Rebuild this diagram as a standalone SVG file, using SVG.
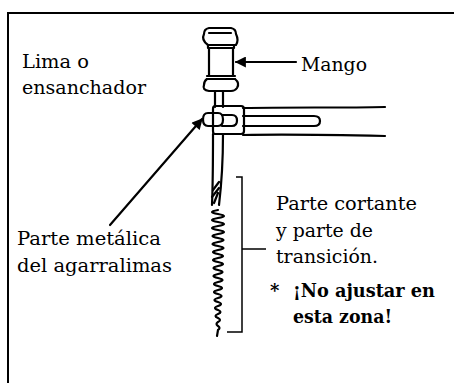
<svg xmlns="http://www.w3.org/2000/svg" width="454" height="383" viewBox="0 0 454 383">
  <defs>
    <style>
      .frame { stroke: #000; stroke-width: 2; fill: none; }
      .ink { stroke: #000; stroke-width: 2.2; fill: none; stroke-linecap: round; stroke-linejoin: round; }
      .thin { stroke: #000; stroke-width: 1.5; fill: none; }
      .lbl { font-size: 18px; fill: #000; }
      .warn { font-size: 18px; font-weight: bold; fill: #000; }
    </style>
    <marker id="head" viewBox="0 0 10 10" refX="9" refY="5" markerWidth="5.5" markerHeight="5" orient="auto" markerUnits="strokeWidth">
      <path d="M0,0 L10,5 L0,10 Z" fill="#000"/>
    </marker>
  </defs>

  <rect width="454" height="383" fill="#fff"/>

  <!-- open frame: top and left edges only -->
  <path class="frame" d="M8,383 V13 H454"/>

  <!-- file / reamer instrument -->
  <g id="instrument">
    <!-- handle -->
    <g id="handle">
      <path class="ink" fill="#fff" d="M209,28 H231 Q236,29 236,34 Q239,40 236,45 H208 Q201,40 204,34 Q204,29 209,28 Z"/>
      <path class="ink" d="M209,33 H231"/>
      <path class="ink" d="M208,45 H234 V48 H208 Z"/>
      <path class="ink" d="M209,48 V76 M233,48 V76"/>
      <path class="ink" d="M207,76 H235 M207,79 H235"/>
      <path class="ink" fill="#fff" d="M207,79 H235 Q240,83 237,88 Q235,91 231,91 H209 Q202,90 204,85 Q204,81 207,79 Z"/>
      <path class="ink" d="M215,91 V107 M223,91 V107"/>
    </g>
    <!-- holder clamp and arms -->
    <g id="holder">
      <path class="ink" d="M243,108 C290,107 340,108 385,107"/>
      <path class="ink" d="M243,135 C290,134 340,135 385,136"/>
      <path class="ink" d="M243,116 H314 Q320,116 320,121 Q320,126 314,126 H243"/>
      <path class="ink" fill="#fff" d="M215,106 H241 Q244,106 244,109 V131 Q244,134 241,134 H215 Q213,134 213,131 V109 Q213,106 215,106 Z"/>
      <path class="ink" d="M222,115 H232 Q237,115 237,120.5 Q237,126 232,126 H222"/>
      <path class="ink" fill="#fff" d="M208,113 H218 Q223,113 223,119.5 Q223,126 218,126 H208 Q203,126 203,119.5 Q203,113 208,113 Z"/>
    </g>
    <!-- shank, transition and cutting spiral -->
    <g id="blade">
      <path class="ink" d="M213,134 C213,160 213,180 212,205"/>
      <path class="ink" d="M223,134 C223,160 222,180 219,205"/>
      <path class="ink" d="M213,190 L219,182 M212,197 L219,188 M214,203 L218,193"/>
      <path class="ink" stroke-width="3.4" d="M218,210 q-12,2 0,4 q12,2 0,4 q-12,2 0,4 q12,2 0,4 q-12,2 0,4 q12,2 0,4 q-11,2 0,4 q11,2 0,4 q-11,2 0,4 q11,2 0,4 q-10,2 0,4 q10,2 0,4 q-10,2 0,4 q10,2 0,4 q-9,2 0,4 q9,2 0,4 q-9,2 0,4 q9,2 0,4 q-8,2 0,4 q8,2 0,4 q-8,2 0,4 q7,2 0,4 q-7,2 0,4 q6,2 0,4 q-6,2 0,4 q5,2 0,4 q-5,2 0,4 q4,2 0,4 q-3,2 0,4 q3,2 0,4 l-1,6"/>
    </g>
  </g>

  <!-- connectors -->
  <g id="connectors">
    <path class="ink" marker-end="url(#head)" d="M296,62 H236"/>
    <path class="ink" marker-end="url(#head)" d="M110,225 L202,119"/>
    <path class="thin" d="M236,177 H242 V332 H227 M242,249 H266"/>
  </g>

  <!-- labels -->
  <g id="label-file" font-family="DejaVu Serif, Liberation Serif, serif">
    <text class="lbl" x="22" y="68" textLength="67" lengthAdjust="spacingAndGlyphs">Lima o</text>
    <text class="lbl" x="22" y="94" textLength="124" lengthAdjust="spacingAndGlyphs">ensanchador</text>
  </g>
  <g id="label-handle" font-family="DejaVu Serif, Liberation Serif, serif">
    <text class="lbl" x="301" y="71" textLength="66" lengthAdjust="spacingAndGlyphs">Mango</text>
  </g>
  <g id="label-holder" font-family="DejaVu Serif, Liberation Serif, serif">
    <text class="lbl" x="17" y="245" textLength="144" lengthAdjust="spacingAndGlyphs">Parte metálica</text>
    <text class="lbl" x="17" y="272" textLength="155" lengthAdjust="spacingAndGlyphs">del agarralimas</text>
  </g>
  <g id="label-cutting" font-family="DejaVu Serif, Liberation Serif, serif">
    <text class="lbl" x="276" y="210" textLength="141" lengthAdjust="spacingAndGlyphs">Parte cortante</text>
    <text class="lbl" x="276" y="237" textLength="97" lengthAdjust="spacingAndGlyphs">y parte de</text>
    <text class="lbl" x="276" y="263" textLength="102" lengthAdjust="spacingAndGlyphs">transición.</text>
    <text class="warn" x="270" y="297">*</text>
    <text class="warn" x="293" y="297" textLength="142" lengthAdjust="spacingAndGlyphs">¡No ajustar en</text>
    <text class="warn" x="293" y="323" textLength="99" lengthAdjust="spacingAndGlyphs">esta zona!</text>
  </g>
</svg>
